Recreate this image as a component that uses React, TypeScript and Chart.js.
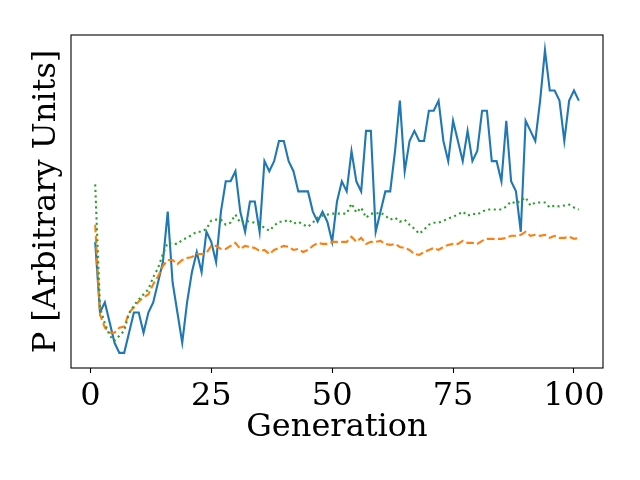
import React, { useEffect, useRef } from "react";
import { Chart, registerables } from "chart.js";

Chart.register(...registerables);

const generations = [
  1, 2, 3, 4, 5, 6, 7, 8, 9, 10, 11, 12, 13, 14, 15, 16, 17, 18, 19, 20,
  21, 22, 23, 24, 25, 26, 27, 28, 29, 30, 31, 32, 33, 34, 35, 36, 37, 38, 39, 40,
  41, 42, 43, 44, 45, 46, 47, 48, 49, 50, 51, 52, 53, 54, 55, 56, 57, 58, 59, 60,
  61, 62, 63, 64, 65, 66, 67, 68, 69, 70, 71, 72, 73, 74, 75, 76, 77, 78, 79, 80,
  81, 82, 83, 84, 85, 86, 87, 88, 89, 90, 91, 92, 93, 94, 95, 96, 97, 98, 99, 100, 101,
];

const bestValues = [
  11, 4, 5, 3, 1, 0, 0, 2, 4, 4,
  2, 4, 5, 7, 9, 14, 7, 4, 1, 5,
  8, 10, 8, 12, 11, 9, 14, 17, 17, 18,
  14, 12, 15, 15, 12, 19, 18, 19, 21, 21,
  19, 18, 16, 16, 16, 14, 13, 14, 13, 11,
  15, 17, 16, 20, 17, 16, 22, 22, 12, 14,
  16, 16, 20, 25, 18, 21, 22, 21, 21, 24,
  24, 25, 21, 19, 23, 21, 19, 22, 19, 20,
  24, 24, 19, 19, 17, 23, 17, 16, 12, 23,
  22, 21, 25, 30, 26, 26, 25, 21, 25, 26, 25,
];

const meanValues = [
  12.7, 3.8, 2.5, 2.0, 2.0, 2.5, 2.6, 4.0, 4.5, 5.1,
  5.5, 5.8, 6.8, 7.6, 8.6, 9.2, 9.2, 8.8, 9.2, 9.4,
  9.5, 9.8, 9.8, 9.9, 10.6, 10.6, 10.3, 10.3, 10.6, 10.9,
  10.3, 10.6, 10.5, 10.4, 10.1, 10.2, 9.8, 10.2, 10.4, 10.6,
  10.5, 10.2, 10.3, 10.0, 10.2, 10.6, 10.9, 10.8, 10.8, 11.0,
  11.0, 11.0, 11.0, 11.5, 11.0, 11.4, 10.8, 11.0, 11.0, 11.1,
  10.8, 10.7, 10.8, 10.5, 10.4, 10.2, 9.8, 9.7, 10.0, 10.2,
  10.4, 10.2, 10.5, 10.7, 10.8, 10.8, 11.1, 10.9, 10.9, 10.8,
  11.1, 11.3, 11.3, 11.3, 11.3, 11.4, 11.6, 11.6, 11.7, 12.0,
  11.6, 11.7, 11.6, 11.7, 11.4, 11.6, 11.4, 11.4, 11.5, 11.3, 11.4,
];

const medianValues = [
  16.7, 4.5, 2.9, 1.7, 1.2, 1.7, 2.2, 3.9, 4.7, 5.3,
  5.8, 6.3, 7.5, 8.4, 9.8, 10.9, 10.8, 10.8, 11.2, 11.4,
  11.7, 12.0, 12.0, 12.3, 13.1, 13.2, 13.2, 12.7, 12.9, 13.7,
  12.9, 13.1, 13.0, 12.9, 12.7, 12.4, 12.1, 12.6, 13.0, 13.0,
  13.2, 12.8, 13.0, 12.7, 12.5, 12.9, 13.4, 13.6, 13.7, 13.8,
  13.8, 13.8, 13.8, 14.8, 13.9, 14.4, 13.4, 13.8, 13.8, 13.9,
  13.6, 13.2, 13.4, 13.0, 13.2, 12.7, 12.3, 11.8, 12.2, 12.7,
  12.9, 12.9, 13.1, 13.3, 13.5, 13.7, 14.0, 13.6, 13.8, 13.7,
  14.0, 14.2, 14.2, 14.2, 14.2, 14.5, 15.0, 14.8, 15.1, 15.4,
  14.6, 14.9, 14.9, 14.9, 14.4, 14.6, 14.5, 14.6, 14.7, 14.4, 14.2,
];

const xTickValues = [0, 25, 50, 75, 100];
const xLabel = "Generation";
const yLabel = "P [Arbitrary Units]";

const FONT = "'DejaVu Serif', serif";

const framePlugin = {
  id: "frame",
  afterDraw(chart: any) {
    const { ctx, chartArea } = chart;
    const { left, top, right, bottom } = chartArea;
    ctx.save();
    ctx.strokeStyle = "#000";
    ctx.lineWidth = 1.1;
    ctx.strokeRect(left, top, right - left, bottom - top);
    ctx.restore();
  },
};

function toPoints(values: number[]) {
  return values.map((v, i) => ({ x: generations[i], y: v }));
}

export default function App() {
  const ref = useRef<HTMLCanvasElement | null>(null);

  useEffect(() => {
    if (!ref.current) return;
    const chart = new Chart(ref.current, {
      type: "line",
      data: {
        datasets: [
          {
            data: toPoints(bestValues),
            borderColor: "#1f77b4",
            borderWidth: 2.1,
            pointRadius: 0,
            tension: 0,
            order: 3,
          },
          {
            data: toPoints(meanValues),
            borderColor: "#ff7f0e",
            borderWidth: 2.1,
            borderDash: [7.7, 3.3],
            pointRadius: 0,
            tension: 0,
            order: 2,
          },
          {
            data: toPoints(medianValues),
            borderColor: "#2ca02c",
            borderWidth: 2.1,
            borderDash: [2.1, 3.4],
            pointRadius: 0,
            tension: 0,
            order: 1,
          },
        ],
      },
      options: {
        animation: false,
        responsive: true,
        maintainAspectRatio: false,
        devicePixelRatio: 1,
        layout: { padding: { left: 0, top: 35, right: 37, bottom: 0 } },
        plugins: {
          legend: { display: false },
          tooltip: { enabled: false },
        },
        scales: {
          x: {
            type: "linear",
            min: -4,
            max: 106,
            afterBuildTicks: (scale: any) => {
              scale.ticks = xTickValues.map((v) => ({ value: v }));
            },
            afterFit: (scale: any) => {
              scale.height = 112;
            },
            border: { display: false },
            grid: {
              display: true,
              drawOnChartArea: false,
              drawTicks: true,
              tickLength: 5,
              tickColor: "#000",
              tickWidth: 1.1,
            },
            ticks: {
              color: "#000",
              padding: 4,
              maxRotation: 0,
              autoSkip: false,
              font: { family: FONT, size: 32 },
            },
            title: {
              display: true,
              text: xLabel,
              color: "#000",
              font: { family: FONT, size: 32 },
              padding: { top: 0, bottom: 33 },
            },
          },
          y: {
            type: "linear",
            min: -1.5,
            max: 31.5,
            afterFit: (scale: any) => {
              scale.width = 71;
            },
            border: { display: false },
            grid: { display: false },
            ticks: { display: false },
            title: {
              display: true,
              text: yLabel,
              color: "#000",
              font: { family: FONT, size: 32 },
              padding: { top: 27, bottom: 0 },
            },
          },
        },
      },
      plugins: [framePlugin],
    });
    return () => chart.destroy();
  }, []);

  return (
    <div
      style={{
        position: "fixed",
        left: 0,
        top: 0,
        width: 640,
        height: 480,
        background: "#fff",
      }}
    >
      <canvas ref={ref} />
    </div>
  );
}
